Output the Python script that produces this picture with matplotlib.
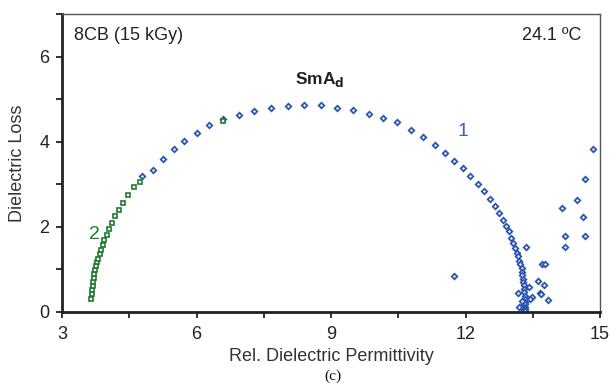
import numpy as np
import matplotlib
matplotlib.use("Agg")
import matplotlib.pyplot as plt
from matplotlib.ticker import MultipleLocator

plt.rcParams['font.family'] = ['Liberation Sans', 'DejaVu Sans']

## Data
# Process 1 (blue diamonds), main arc
eps1 = [4.78, 5.02, 5.25, 5.49, 5.73, 6.00, 6.28, 6.60, 6.94, 7.29, 7.67, 8.03,
        8.40, 8.77, 9.14, 9.48, 9.84, 10.17, 10.48, 10.79, 11.05, 11.31, 11.54,
        11.75, 11.94, 12.11, 12.27, 12.42, 12.55, 12.66, 12.75, 12.84, 12.91,
        12.96, 13.02, 13.07, 13.11, 13.15, 13.17, 13.20, 13.22, 13.25, 13.26,
        13.27, 13.28, 13.29, 13.30, 13.31, 13.31, 13.32, 13.32, 13.32, 13.32,
        13.33, 13.33, 13.33]
loss1 = [3.19, 3.34, 3.58, 3.83, 4.01, 4.20, 4.38, 4.52, 4.63, 4.72, 4.80, 4.84,
         4.86, 4.85, 4.80, 4.74, 4.65, 4.55, 4.45, 4.27, 4.10, 3.92, 3.74,
         3.55, 3.37, 3.18, 3.00, 2.83, 2.65, 2.49, 2.32, 2.16, 2.02,
         1.89, 1.74, 1.62, 1.50, 1.39, 1.30, 1.20, 1.11, 1.02, 0.94,
         0.86, 0.78, 0.70, 0.62, 0.54, 0.46, 0.38, 0.30, 0.23, 0.17,
         0.11, 0.06, 0.02]

# Process 1, scattered low-frequency points
eps1_sc = [11.74, 13.34, 13.71, 13.78, 13.61, 13.74, 13.66, 13.68, 13.83, 13.17,
           13.42, 13.48, 13.43, 13.25, 13.24, 13.19, 14.16, 14.21, 14.21, 14.48,
           14.62, 14.67, 14.67, 14.84]
loss1_sc = [0.84, 1.53, 1.13, 1.12, 0.72, 0.62, 0.44, 0.41, 0.28, 0.44,
            0.59, 0.35, 0.30, 0.26, 0.12, 0.12, 2.44, 1.79, 1.53, 2.62,
            2.22, 1.79, 3.11, 3.83]

# Process 2 (green squares)
eps2 = [3.654, 3.663, 3.670, 3.685, 3.692, 3.708, 3.721, 3.737, 3.759, 3.781,
        3.810, 3.842, 3.871, 3.908, 3.944, 3.993, 4.049, 4.109, 4.190, 4.268,
        4.362, 4.480, 4.600, 4.746, 6.594]
loss2 = [0.30, 0.42, 0.51, 0.61, 0.70, 0.80, 0.89, 0.98, 1.08, 1.17,
         1.25, 1.35, 1.46, 1.57, 1.69, 1.81, 1.95, 2.09, 2.24, 2.38,
         2.55, 2.74, 2.94, 3.06, 4.48]

blue = '#2c55b0'
green = '#1f7a30'

## Figure
fig = plt.figure(figsize=(6.11, 3.86), dpi=100)
ax = fig.add_axes([0.1015, 0.1925, 0.8805, 0.7712])

ax.plot(eps1, loss1, 'D', mfc='white', mec=blue, ms=2.8, mew=1.3, linestyle='None')
ax.plot(eps1_sc, loss1_sc, 'D', mfc='white', mec=blue, ms=2.8, mew=1.3, linestyle='None')
ax.plot(eps2, loss2, 's', mfc='white', mec=green, ms=3.4, mew=1.2, linestyle='None')

ax.set_xlim(3, 15)
ax.set_ylim(0, 7)
ax.xaxis.set_major_locator(MultipleLocator(3))
ax.xaxis.set_minor_locator(MultipleLocator(1.5))
ax.yaxis.set_major_locator(MultipleLocator(2))
ax.yaxis.set_minor_locator(MultipleLocator(1))
ax.tick_params(which='both', direction='out', length=4, width=1.3, labelsize=13,
               colors='#222222', top=False, right=False)
ax.tick_params(axis='x', pad=6)
ax.tick_params(axis='y', pad=5)

# Spines: heavy left/bottom, thin top/right
for s in ['left', 'bottom']:
    ax.spines[s].set_linewidth(2.0)
    ax.spines[s].set_color('#222222')
for s in ['top', 'right']:
    ax.spines[s].set_linewidth(1.0)
    ax.spines[s].set_color('#555555')

ax.set_xlabel('Rel. Dielectric Permittivity', fontsize=13, color='#333333', labelpad=4)
ax.set_ylabel('Dielectric Loss', fontsize=13, color='#333333', labelpad=10)

# Annotations
ax.text(0.022, 0.955, '8CB (15 kGy)', transform=ax.transAxes, fontsize=13,
        color='#222222', va='top', ha='left')
ax.text(0.965, 0.955, '24.1 ºC', transform=ax.transAxes, fontsize=13,
        color='#222222', va='top', ha='right')
ax.text(8.75, 5.45, r'SmA$_\mathbf{d}$', fontsize=12.5, fontweight='bold',
        color='#222222', ha='center', va='center')
ax.text(11.95, 4.24, '1', fontsize=14, color='#3a62b4', ha='center', va='center')
ax.text(3.72, 1.82, '2', fontsize=14, color=green, ha='center', va='center')

fig.text(0.545, 0.008, '(c)', fontsize=11, family='Liberation Serif',
         ha='center', va='bottom', color='#111111')

fig.savefig('out.png', dpi=100)
